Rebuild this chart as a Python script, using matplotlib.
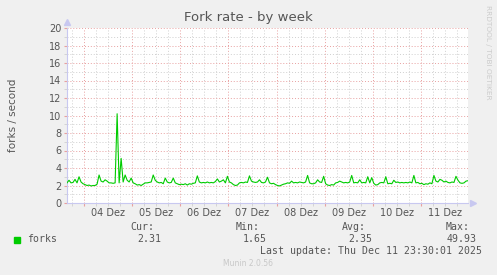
import numpy as np
import pandas as pd
import matplotlib
matplotlib.use("Agg")
import matplotlib.pyplot as plt
import matplotlib.dates as mdates
from matplotlib.ticker import MultipleLocator, NullFormatter

# hourly fork rate, 03 Dez 15:30 .. 11 Dez 23:30
start = "2025-12-03 15:30"
forks = [
    2.3, 2.6, 2.3, 2.35, 2.7, 2.3, 3.0, 2.4, 2.2, 2.1,
    2.0, 2.05, 1.95, 2.0, 2.0, 2.15, 3.2, 2.5, 2.4, 2.65,
    2.5, 2.3, 2.3, 2.25, 2.3, 10.2, 2.3, 5.1, 2.4, 3.2,
    2.6, 2.4, 2.85, 2.3, 2.2, 2.05, 2.1, 2.0, 2.15, 2.3,
    2.3, 2.35, 2.4, 3.2, 2.6, 2.4, 2.3, 2.35, 2.2, 2.85,
    2.4, 2.3, 2.35, 2.85, 2.3, 2.2, 2.1, 2.15, 2.1, 2.2,
    2.05, 2.2, 2.15, 2.25, 2.3, 3.1, 2.4, 2.3, 2.35, 2.3,
    2.4, 2.3, 2.35, 2.3, 2.45, 2.75, 2.4, 2.5, 2.65, 2.3,
    3.05, 2.4, 2.3, 2.1, 2.0, 2.05, 2.3, 2.35, 2.3, 2.4,
    2.35, 3.1, 2.5, 2.4, 2.35, 2.4, 2.65, 2.35, 2.3, 2.4,
    2.95, 2.3, 2.2, 2.25, 2.1, 2.0, 1.95, 2.05, 2.15, 2.2,
    2.3, 2.25, 2.5, 2.3, 2.35, 2.3, 2.4, 2.35, 2.3, 2.4,
    3.15, 2.3, 2.2, 2.2, 2.3, 2.65, 2.4, 2.35, 3.05, 2.2,
    2.05, 2.0, 2.1, 2.05, 2.3, 2.35, 2.5, 2.4, 2.3, 2.35,
    2.3, 2.4, 3.15, 2.3, 2.35, 2.3, 2.65, 2.3, 2.35, 2.3,
    3.0, 2.3, 2.9, 2.25, 2.05, 2.1, 2.3, 2.35, 2.3, 3.0,
    2.2, 2.25, 2.2, 2.6, 2.35, 2.4, 2.3, 2.35, 2.3, 2.35,
    2.3, 2.4, 2.3, 3.15, 2.3, 2.35, 2.2, 2.25, 2.1, 2.2,
    2.15, 2.3, 2.2, 3.15, 2.5, 2.4, 2.7, 2.6, 2.4, 2.5,
    2.35, 2.3, 2.4, 2.35, 3.05, 2.6, 2.3, 2.25, 2.3, 2.5,
    2.55,
]
day_labels = ["04 Dez", "05 Dez", "06 Dez", "07 Dez", "08 Dez", "09 Dez", "10 Dez", "11 Dez"]
day_noons = pd.date_range("2025-12-04 12:00", periods=8, freq="D")
legend_heads = ["Cur:", "Min:", "Avg:", "Max:"]
legend_vals = ["2.31", "1.65", "2.35", "49.93"]

times = pd.date_range(start, periods=len(forks), freq="h")

BG = "#F0F0F0"
TXT = "#555555"
MGRID = "#E8A0A0"
GRID = "#CFCFCF"
AXIS = "#C8C8F0"

fig = plt.figure(figsize=(4.97, 2.75), dpi=100, facecolor=BG)
ax = fig.add_axes([67 / 497, 72 / 275, 401 / 497, 175 / 275])
ax.set_facecolor("white")

ax.plot(times, forks, color="#00CC00", lw=0.8, zorder=3)

ax.set_xlim(times[0], times[-1])
ax.set_ylim(0, 20)

ax.xaxis.set_major_locator(mdates.DayLocator())
ax.xaxis.set_minor_locator(mdates.HourLocator(byhour=[6, 12, 18]))
ax.xaxis.set_major_formatter(NullFormatter())
ax.yaxis.set_major_locator(MultipleLocator(2))
ax.yaxis.set_minor_locator(MultipleLocator(1))

ax.grid(which="major", color=MGRID, linestyle=(0, (1, 2)), lw=0.7)
ax.grid(which="minor", color=GRID, linestyle=(0, (1, 2)), lw=0.7)
ax.set_axisbelow(True)

ax.tick_params(which="major", axis="x", length=2, color=MGRID, pad=2)
ax.tick_params(which="minor", axis="x", length=2, color=GRID)
ax.tick_params(which="major", axis="y", length=2, color=MGRID, labelsize=7, labelcolor=TXT, pad=2)
ax.tick_params(which="minor", axis="y", length=2, color=GRID)

for s in ["top", "right"]:
    ax.spines[s].set_visible(False)
for s in ["left", "bottom"]:
    ax.spines[s].set_color(AXIS)
    ax.spines[s].set_linewidth(0.8)

# axis arrows
ax.plot([0], [1.035], marker="^", ms=4, color=AXIS, transform=ax.transAxes, clip_on=False)
ax.plot([1.013], [0], marker=">", ms=4, color=AXIS, transform=ax.transAxes, clip_on=False)

for d, lab in zip(day_noons, day_labels):
    ax.text(mdates.date2num(d), -0.055, lab, transform=ax.get_xaxis_transform(),
            ha="center", va="center", fontsize=7, color=TXT)

fig.text(248 / 497, 1 - 18 / 275, "Fork rate - by week", ha="center", va="center",
         fontsize=9.5, color=TXT)
fig.text(13 / 497, 1 - 115 / 275, "forks / second", rotation=90, ha="center", va="center",
         fontsize=7.5, color=TXT)
fig.text(488 / 497, 1 - 52 / 275, "RRDTOOL / TOBI OETIKER", rotation=270, ha="center",
         va="center", fontsize=5.3, color="#CCCCCC")

mono = "DejaVu Sans Mono"
head_x = [154, 260, 366, 470]
val_x = [161, 267, 372, 477]
for hx, h in zip(head_x, legend_heads):
    fig.text(hx / 497, 1 - 227.5 / 275, h, ha="right", va="center", family=mono, fontsize=7.1, color=TXT)
for vx, v in zip(val_x, legend_vals):
    fig.text(vx / 497, 1 - 239.5 / 275, v, ha="right", va="center", family=mono, fontsize=7.1, color=TXT)
fig.text(27 / 497, 1 - 239.5 / 275, "forks", ha="left", va="center", family=mono, fontsize=7.1, color=TXT)
fig.patches.append(plt.Rectangle((14 / 497, 1 - 243 / 275), 6 / 497, 6 / 275,
                                 transform=fig.transFigure, color="#00CC00"))
fig.text(482 / 497, 1 - 251.5 / 275, "Last update: Thu Dec 11 23:30:01 2025", ha="right",
         va="center", family=mono, fontsize=7.1, color=TXT)
fig.text(248 / 497, 1 - 264 / 275, "Munin 2.0.56", ha="center", va="center",
         fontsize=5.5, color="#C8C8C8")

fig.savefig("out.png", dpi=100, facecolor=BG)
